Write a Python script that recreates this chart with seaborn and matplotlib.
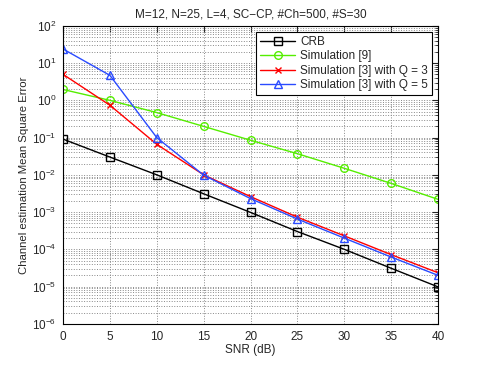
import numpy as np
import pandas as pd
import matplotlib
matplotlib.use("Agg")
import matplotlib.pyplot as plt
import seaborn as sns
from matplotlib.ticker import FixedLocator, NullFormatter

snr = [0, 5, 10, 15, 20, 25, 30, 35, 40]
crb = [0.091, 0.030, 0.0100, 0.0031, 0.00098, 0.00030, 0.00010, 0.000031, 0.0000098]
sim9 = [1.96, 1.0, 0.47, 0.20, 0.085, 0.037, 0.015, 0.0059, 0.0022]
sim3_q3 = [5.0, 0.74, 0.066, 0.0100, 0.0026, 0.00073, 0.00023, 0.000072, 0.0000235]
sim3_q5 = [24.0, 4.7, 0.100, 0.0098, 0.0023, 0.00065, 0.00020, 0.000062, 0.000020]

labels = ["CRB", "Simulation [9]", "Simulation [3] with Q = 3", "Simulation [3] with Q = 5"]
colors = ["black", "#55ee00", "#ff0000", "#2a4bff"]
markers = ["s", "o", "x", "^"]

df = pd.concat([
    pd.DataFrame({"SNR": snr, "MSE": vals, "curve": lab})
    for vals, lab in zip([crb, sim9, sim3_q3, sim3_q5], labels)
])

sns.set_style("white")
plt.rcParams['font.family'] = ['Liberation Sans', 'DejaVu Sans']
plt.rcParams['mathtext.fontset'] = 'custom'
plt.rcParams['mathtext.rm'] = 'Liberation Sans'

fig = plt.figure(figsize=(4.85, 3.65), dpi=100)
ax = fig.add_axes([0.13, 0.113, 0.773, 0.816])

for lab, c, m in zip(labels, colors, markers):
    sns.lineplot(data=df[df.curve == lab], x="SNR", y="MSE", ax=ax, color=c,
                 marker=m, markersize=5.5 if m != "x" else 4.5, markerfacecolor="none",
                 markeredgecolor=c, markeredgewidth=1.0, linewidth=1.0, label=lab)

ax.set_yscale("log")
ax.set_xlim(0, 40)
ax.set_ylim(1e-6, 1e2)
ax.set_xticks(range(0, 41, 5))
decades = range(-6, 3)
ax.set_yticks([10.0 ** d for d in decades])
ax.set_yticklabels([r"$10^{%d}$" % d for d in decades])
ax.yaxis.set_minor_locator(FixedLocator([k * 10.0 ** d for d in range(-6, 2) for k in range(2, 10)]))
ax.yaxis.set_minor_formatter(NullFormatter())
ax.grid(True, which="major", axis="both", linestyle=":", color="#888888", linewidth=0.7)
ax.grid(True, which="minor", axis="y", linestyle=":", color="#888888", linewidth=0.7)
ax.tick_params(which="both", direction="in", top=True, right=True, labelsize=8.5)
ax.tick_params(which="major", length=4, pad=5)
ax.tick_params(which="minor", length=2)
for s in ax.spines.values():
    s.set_color("black")
    s.set_linewidth(0.8)

ax.set_xlabel("SNR (dB)", fontsize=8.5, labelpad=1)
ax.set_ylabel("Channel estimation Mean Square Error", fontsize=8.2, labelpad=2)
ax.set_title("M=12, N=25, L=4, SC\u2212CP, #Ch=500, #S=30", fontsize=8.5, pad=6)

leg = ax.legend(loc="upper right", fontsize=8.5, fancybox=False, framealpha=1,
                edgecolor="black", borderaxespad=0.5, handlelength=3.0,
                handletextpad=0.4, labelspacing=0.2, borderpad=0.35)
leg.get_frame().set_linewidth(0.8)

fig.savefig("out.png", dpi=100)
